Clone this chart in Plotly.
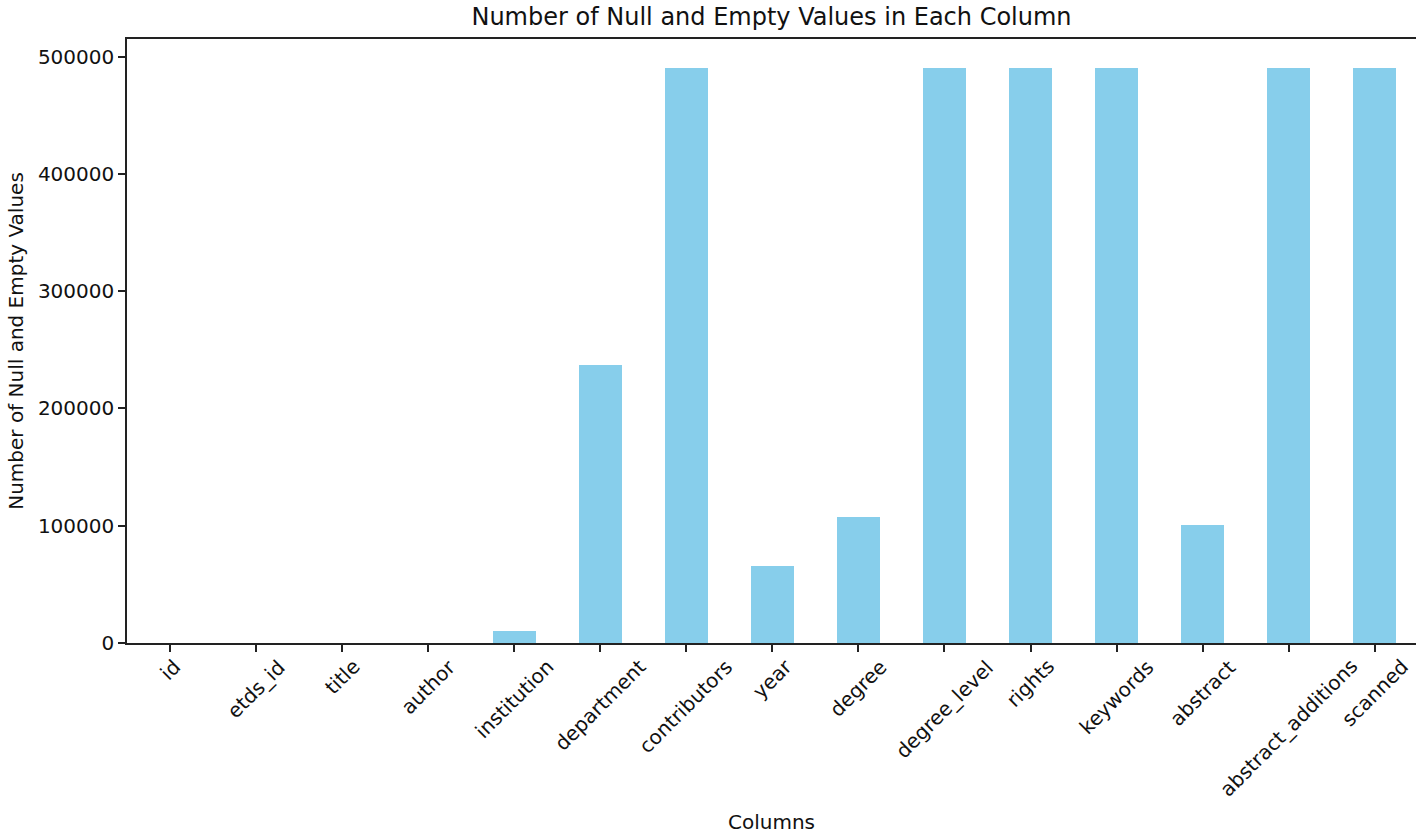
import plotly.graph_objects as go

columns = ["id", "etds_id", "title", "author", "institution", "department",
           "contributors", "year", "degree", "degree_level", "rights",
           "keywords", "abstract", "abstract_additions", "scanned"]
null_counts = [0, 0, 0, 0, 10200, 236800, 490500, 65600, 107300,
               490500, 490500, 490500, 100500, 490500, 490500]
y_ticks = [0, 100000, 200000, 300000, 400000, 500000]

FONT = "DejaVu Sans"
x_idx = list(range(len(columns)))

fig = go.Figure()
fig.add_trace(go.Bar(x=x_idx, y=null_counts, width=0.5,
                     marker=dict(color="#87CEEB", line=dict(width=0)),
                     showlegend=False))

annotations = []
for i, c in enumerate(columns):
    annotations.append(dict(x=i, y=0, xref="x", yref="paper", text=c,
                            textangle=-45, xanchor="center", yanchor="top",
                            yshift=-9, showarrow=False,
                            font=dict(family=FONT, size=20, color="#111")))
annotations.append(dict(x=0.5, y=0, xref="paper", yref="paper", text="Columns",
                        xanchor="center", yanchor="middle", yshift=-179,
                        showarrow=False,
                        font=dict(family=FONT, size=20, color="#111")))

fig.update_layout(
    width=1416, height=833,
    margin=dict(l=127, r=0, t=39, b=190),
    plot_bgcolor="white", paper_bgcolor="white",
    title=dict(text="Number of Null and Empty Values in Each Column",
               x=0.5, xref="paper", xanchor="center",
               y=1 - 17 / 833, yanchor="middle",
               font=dict(family=FONT, size=24, color="#111")),
    xaxis=dict(range=[-0.5, 14.48], tickmode="array", tickvals=x_idx,
               showticklabels=False, ticks="outside", ticklen=7, tickwidth=1.5,
               tickcolor="#222", showline=True, linecolor="#222", linewidth=1.5,
               mirror=True, showgrid=False, zeroline=False),
    yaxis=dict(range=[0, 515000], tickmode="array", tickvals=y_ticks,
               ticktext=[str(v) for v in y_ticks],
               ticks="outside", ticklen=7, tickwidth=1.5, tickcolor="#222",
               showline=True, linecolor="#222", linewidth=1.5, mirror=False,
               showgrid=False, zeroline=False,
               tickfont=dict(family=FONT, size=20, color="#111"),
               title=dict(text="Number of Null and Empty Values", standoff=9,
                          font=dict(family=FONT, size=20, color="#111"))),
    annotations=annotations,
    bargap=0,
)

fig.write_html("out.html",
               config={"displayModeBar": False},
               post_script="document.body.style.margin='0';"
                           "document.body.style.padding='0';"
                           "document.body.style.overflow='hidden';")
